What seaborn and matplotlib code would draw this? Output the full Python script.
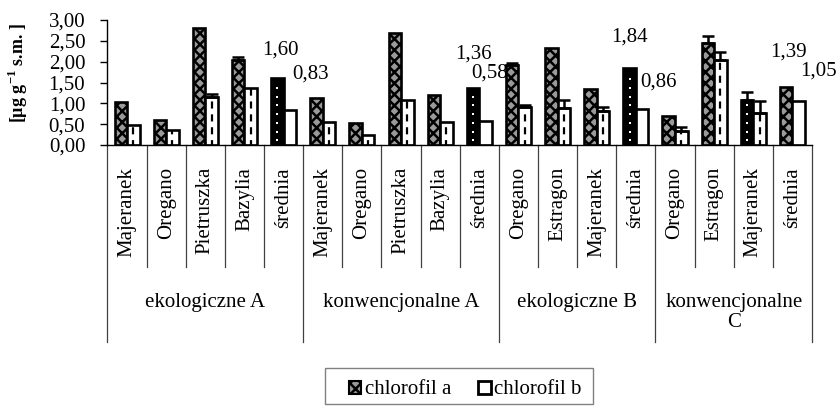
import numpy as np
import pandas as pd
import matplotlib
matplotlib.use("Agg")
import matplotlib.pyplot as plt
import seaborn as sns
from matplotlib.patches import Patch, Rectangle
from matplotlib.transforms import blended_transform_factory

# ---- data -----------------------------------------------------------------
groups = ["ekologiczne A", "konwencjonalne A", "ekologiczne B", "konwencjonalne\nC"]
group_sizes = [5, 5, 4, 4]
plants = ["Majeranek", "Oregano", "Pietruszka", "Bazylia", "średnia",
          "Majeranek", "Oregano", "Pietruszka", "Bazylia", "średnia",
          "Oregano", "Estragon", "Majeranek", "średnia",
          "Oregano", "Estragon", "Majeranek", "średnia"]
series = ["chlorofil a", "chlorofil b"]
chl_a = [1.04, 0.61, 2.80, 2.03, 1.60,
         1.12, 0.53, 2.69, 1.21, 1.36,
         1.93, 2.34, 1.35, 1.84,
         0.69, 2.46, 1.07, 1.39]
chl_b = [0.49, 0.36, 1.15, 1.37, 0.83,
         0.55, 0.23, 1.09, 0.55, 0.58,
         0.92, 0.89, 0.81, 0.86,
         0.33, 2.05, 0.77, 1.05]
err_a = [0, 0, 0, 0.09, 0,
         0, 0, 0, 0, 0,
         0.05, 0, 0, 0,
         0, 0.16, 0.20, 0]
err_b = [0, 0, 0.08, 0, 0,
         0, 0, 0, 0, 0,
         0.03, 0.18, 0.10, 0,
         0.10, 0.18, 0.28, 0]
yticks = [0.0, 0.5, 1.0, 1.5, 2.0, 2.5, 3.0]
labelled = [4, 9, 13, 17]          # columns whose bars carry value labels

# ---- styling --------------------------------------------------------------
a_dotted = [4, 9, 13, 16]           # black bars with a column of white dots
b_dashed = [i for i in range(len(plants)) if i not in (4, 9, 13, 17)]
label_off_a = [(0.07, 0.68), (0.0, 0.82), (0.0, 0.75), (0.05, 0.84)]
label_off_b = [(0.52, 0.87), (0.09, 1.14), (0.41, 0.65), (0.50, 0.72)]
FS = 15
CROSS_FACE = "#9a9a9a"

plt.rcParams.update({
    "font.family": ["Liberation Serif", "DejaVu Serif"],
    "mathtext.fontset": "custom",
    "mathtext.rm": "Liberation Serif",
    "mathtext.bf": "Liberation Serif:bold",
    "hatch.linewidth": 1.8,
})

W, H = 837, 409
fig = plt.figure(figsize=(W / 100, H / 100), dpi=100)
ax = fig.add_axes([107.5 / W, 1 - 145 / H, (812 - 107.5) / W, 125 / H])

n = len(plants)
keys = [f"{i:02d}" for i in range(n)]
df = pd.DataFrame({
    "key": keys * 2,
    "value": chl_a + chl_b,
    "series": [series[0]] * n + [series[1]] * n,
})
sns.barplot(data=df, x="key", y="value", hue="series", order=keys,
            hue_order=series, width=0.64, errorbar=None, saturation=1,
            palette=[CROSS_FACE, "white"], legend=False, ax=ax)

bars_a = sorted(ax.containers[0].patches, key=lambda p: p.get_x())
bars_b = sorted(ax.containers[1].patches, key=lambda p: p.get_x())

for i, p in enumerate(bars_a):
    p.set_linewidth(1.9)
    p.set_edgecolor("black")
    if i in a_dotted:
        p.set_facecolor("black")
        cx = p.get_x() + p.get_width() / 2
        ys = np.arange(0.11, chl_a[i] - 0.05, 0.21)
        ax.scatter(np.full_like(ys, cx), ys, marker="s", s=4,
                   color="white", linewidths=0, zorder=4)
    else:
        p.set_facecolor(CROSS_FACE)
        p.set_hatch("xxx")

for i, p in enumerate(bars_b):
    p.set_linewidth(1.9)
    p.set_edgecolor("black")
    p.set_facecolor("white")
    if i in b_dashed:
        cx = p.get_x() + p.get_width() / 2
        ax.vlines(cx, 0, chl_b[i], colors="black", linewidth=1.6,
                  linestyles=(1, (3.2, 2.6)), zorder=4)

# upward error bars
for bars, vals, errs in ((bars_a, chl_a, err_a), (bars_b, chl_b, err_b)):
    for p, v, e in zip(bars, vals, errs):
        if e > 0:
            cx = p.get_x() + p.get_width() / 2
            ax.errorbar(cx, v, yerr=[[0], [e]], fmt="none", ecolor="black",
                        elinewidth=1.8, capsize=4.5, capthick=1.8, zorder=5)

# value labels on the "średnia" columns
fmt = lambda v: f"{v:.2f}".replace(".", ",")
for k, i in enumerate(labelled):
    dx, dy = label_off_a[k]
    ax.text(i - 0.16 + dx, chl_a[i] + dy, fmt(chl_a[i]), ha="center",
            va="center", fontsize=FS, clip_on=False)
    dx, dy = label_off_b[k]
    ax.text(i + 0.16 + dx, chl_b[i] + dy, fmt(chl_b[i]), ha="center",
            va="center", fontsize=FS, clip_on=False)

# axes
ax.set_xlim(-0.5, n - 0.5)
ax.set_ylim(0, 3)
ax.set_yticks(yticks)
ax.set_yticklabels([fmt(t) for t in yticks])
ax.tick_params(axis="y", direction="out", length=5, width=1, pad=11,
               labelsize=FS, colors="black")
ax.tick_params(axis="x", length=0, labelbottom=False)
ax.set_xlabel("")
ax.set_ylabel("")
for s in ("top", "right"):
    ax.spines[s].set_visible(False)
for s in ("left", "bottom"):
    ax.spines[s].set_color("black")
    ax.spines[s].set_linewidth(1)

# multi-level category axis
tr = blended_transform_factory(ax.transData, fig.transFigure)
y_axis = 1 - 145 / H
y_cat = 1 - 267 / H
y_grp = 1 - 342 / H
bounds = np.cumsum([0] + group_sizes)
for k in range(n + 1):
    y_end = y_grp if k in bounds else y_cat
    ax.plot([k - 0.5, k - 0.5], [y_axis, y_end], transform=tr, color="#404040",
            lw=0.9, clip_on=False)
for i, name in enumerate(plants):
    ax.text(i, 1 - 167 / H, name, rotation=90, ha="center", va="top",
            fontsize=FS, transform=tr)
for g, name in enumerate(groups):
    cx = (bounds[g] + bounds[g + 1] - 1) / 2
    ax.text(cx, 1 - 293 / H, name, ha="center", va="top", fontsize=FS,
            transform=tr, linespacing=1.1)

# y-axis title
fig.text(17.5 / W, 1 - 73 / H, r"[µg g$^{\mathbf{-1}}$ s.m. ]", rotation=90,
         ha="center", va="center", fontsize=13, fontweight="bold")

# legend
handles = [Patch(facecolor=CROSS_FACE, edgecolor="black", hatch="xxx", lw=1.5),
           Patch(facecolor="white", edgecolor="black", lw=2)]
fig.legend(handles, series, loc="center", bbox_to_anchor=(465 / W, 1 - 390 / H),
           ncol=2, frameon=False, fontsize=FS, handlelength=0.6,
           handleheight=0.6, handletextpad=0.15, columnspacing=1.3,
           borderpad=0.2)
fig.patches.append(Rectangle((325 / W, 1 - 404 / H), 268 / W, 36 / H,
                             transform=fig.transFigure, fill=False,
                             edgecolor="#808080", lw=1))

fig.savefig("out.png", dpi=100)
